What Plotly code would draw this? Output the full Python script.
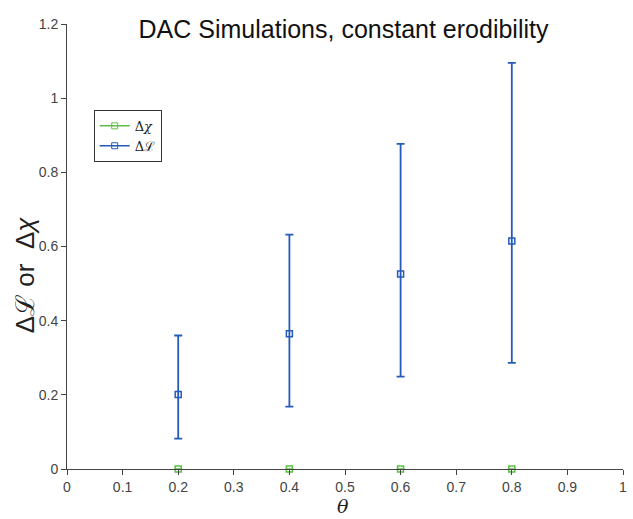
import plotly.graph_objects as go

# theta values and DAC simulation results
theta = [0.2, 0.4, 0.6, 0.8]

dL_mean = [0.201, 0.365, 0.526, 0.615]
dL_upper = [0.360, 0.632, 0.877, 1.095]
dL_lower = [0.082, 0.168, 0.249, 0.286]

dchi_mean = [0.0, 0.0, 0.0, 0.0]
dchi_err = [0.0, 0.0, 0.0, 0.0]

x_ticks = [0, 0.1, 0.2, 0.3, 0.4, 0.5, 0.6, 0.7, 0.8, 0.9, 1]
x_tick_text = ["0", "0.1", "0.2", "0.3", "0.4", "0.5", "0.6", "0.7", "0.8", "0.9", "1"]
y_ticks = [0, 0.2, 0.4, 0.6, 0.8, 1.0, 1.2]
y_tick_text = ["0", "0.2", "0.4", "0.6", "0.8", "1", "1.2"]

BLUE = "rgb(38,90,185)"
GREEN = "rgb(95,190,70)"

err_plus = [u - m for u, m in zip(dL_upper, dL_mean)]
err_minus = [m - l for m, l in zip(dL_mean, dL_lower)]

fig = go.Figure()

fig.add_trace(go.Scatter(
    x=theta, y=dchi_mean, mode="markers", showlegend=False, cliponaxis=False,
    marker=dict(symbol="square-open", size=6, color=GREEN, line=dict(width=1.5)),
    error_y=dict(type="data", array=dchi_err, color=GREEN, thickness=1.5, width=4),
))
fig.add_trace(go.Scatter(
    x=theta, y=dL_mean, mode="markers", showlegend=False,
    marker=dict(symbol="square-open", size=6, color=BLUE, line=dict(width=1.5)),
    error_y=dict(type="data", symmetric=False, array=err_plus, arrayminus=err_minus,
                 color=BLUE, thickness=1.8, width=4),
))

# legend entries
fig.add_trace(go.Scatter(
    x=[None], y=[None], mode="lines+markers", name="Δ<i>χ</i>",
    line=dict(color=GREEN, width=1.5),
    marker=dict(symbol="square-open", size=6, color=GREEN),
))
fig.add_trace(go.Scatter(
    x=[None], y=[None], mode="lines+markers", name="Δℒ",
    line=dict(color=BLUE, width=1.5),
    marker=dict(symbol="square-open", size=6, color=BLUE),
))

axis_common = dict(
    showline=True, linecolor="#444", linewidth=1,
    ticks="outside", ticklen=5, tickcolor="#444",
    showgrid=False, zeroline=False,
    tickfont=dict(family="Liberation Sans, Arial", size=14, color="#444"),
)

fig.update_layout(
    width=633, height=519,
    margin=dict(l=67, r=6, t=24, b=50),
    paper_bgcolor="white", plot_bgcolor="white",
    title=dict(
        text="DAC Simulations, constant erodibility",
        x=343.5 / 633, xanchor="center", y=1 - 29 / 519, yanchor="middle",
        font=dict(family="Liberation Sans, Arial", size=25, color="#111"),
    ),
    xaxis=dict(range=[0, 1], tickvals=x_ticks, ticktext=x_tick_text, **axis_common),
    yaxis=dict(range=[0, 1.2], tickvals=y_ticks, ticktext=y_tick_text, **axis_common),
    legend=dict(
        x=0.048, y=0.807, xanchor="left", yanchor="top",
        bgcolor="white", bordercolor="#333", borderwidth=1,
        font=dict(family="DejaVu Serif, serif", size=13, color="#222"),
        tracegroupgap=0, itemwidth=30,
    ),
    annotations=[
        dict(text="Δℒ or  Δ<i>χ</i>", textangle=-90, xref="paper", yref="paper",
             x=-0.075, y=0.436, xanchor="center", yanchor="middle", showarrow=False,
             font=dict(family="Liberation Sans, Arial", size=26, color="#222")),
        dict(text="<i>θ</i>", xref="paper", yref="paper",
             x=0.497, y=-0.1101, xanchor="center", yanchor="bottom", showarrow=False,
             borderpad=0,
             font=dict(family="DejaVu Serif, serif", size=19, color="#222")),
    ],
)

fig.write_html("out.html")
